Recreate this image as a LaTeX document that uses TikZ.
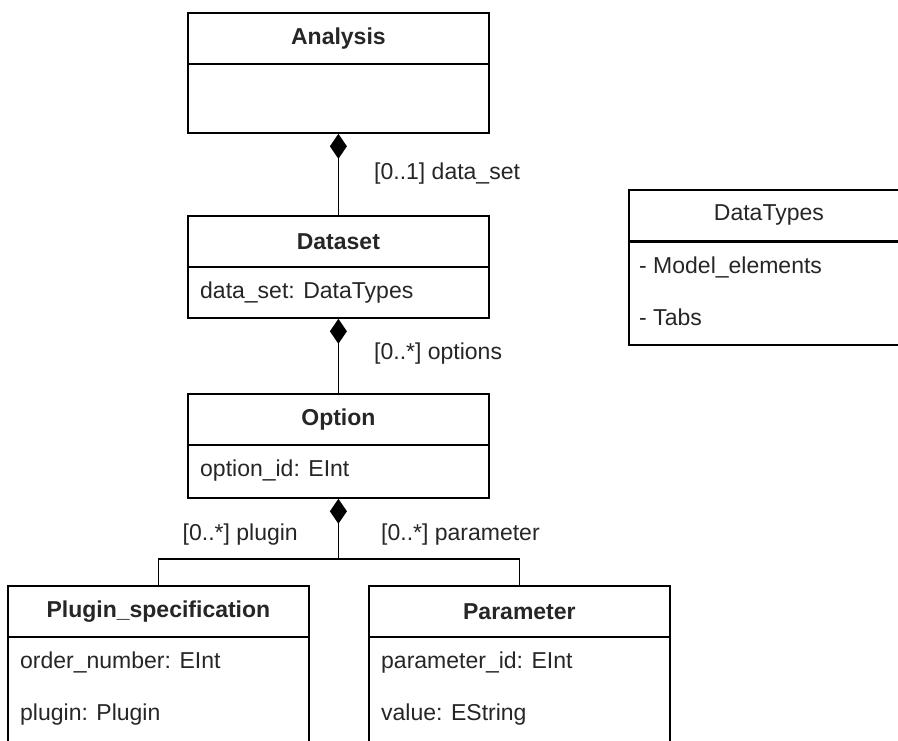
\documentclass[tikz,border=0pt]{standalone}
\usepackage{fontspec}
\setmainfont{Liberation Sans}
\usetikzlibrary{arrows.meta}
\definecolor{txt}{HTML}{262626}
\begin{document}
\begin{tikzpicture}[x=1pt,y=-1pt,
  every node/.style={font=\fontsize{23}{28}\selectfont, text=txt, inner sep=0pt},
  classhead/.style={draw=black, line width=1.8pt, minimum width=301pt,
    minimum height=51pt, anchor=north west, font=\fontsize{23}{28}\selectfont\bfseries},
  plainhead/.style={classhead, font=\fontsize{23}{28}\selectfont},
  classbody/.style={draw=black, line width=1.8pt, minimum width=301pt, anchor=north west},
  attr/.style={anchor=west, text height=17pt, text depth=5pt},
  lbl/.style={text height=17pt, text depth=5pt},
  link/.style={draw=black, line width=1.8pt},
  compose/.style={link, {Diamond[length=25pt,width=17pt]}-}
]
\fill[white] (0,0) rectangle (898,740);
\useasboundingbox (0,0) rectangle (898,740);
\clip (0,0) rectangle (898,740);

% Analysis
\node[classhead] (analysis) at (187,12) {Analysis};
\node[classbody, minimum height=69pt] (analysisBody) at (187,63) {};

% Dataset
\node[classhead] (dataset) at (187,215) {Dataset};
\node[classbody, minimum height=51pt] (datasetBody) at (187,266) {};
\node[attr] (datasetAttr) at (200,292) {data\_set: DataTypes};

% Option
\node[classhead] (option) at (187,393) {Option};
\node[classbody, minimum height=53pt] (optionBody) at (187,444) {};
\node[attr] (optionAttr) at (200,470) {option\_id: EInt};

% Plugin_specification
\node[classhead] (plugin) at (7,585) {Plugin\_specification};
\node[classbody, minimum height=180pt] (pluginBody) at (7,636) {};
\node[attr] (pluginAttrA) at (20,662) {order\_number: EInt};
\node[attr] (pluginAttrB) at (20,714) {plugin: Plugin};

% Parameter
\node[classhead] (parameter) at (368,585) {Parameter};
\node[classbody, minimum height=180pt] (parameterBody) at (368,636) {};
\node[attr] (parameterAttrA) at (381,662) {parameter\_id: EInt};
\node[attr] (parameterAttrB) at (381,714) {value: EString};

% DataTypes enumeration
\node[plainhead, minimum width=280pt] (datatypes) at (628,189) {DataTypes};
\node[classbody, minimum width=280pt, minimum height=103pt] (datatypesBody) at (628,241) {};
\node[attr] (dtLitA) at (639,267) {- Model\_elements};
\node[attr] (dtLitB) at (639,319) {- Tabs};

% Compositions
\draw[compose] (analysisBody.south) -- (dataset.north);
\node[lbl, anchor=west] (lblDataSet) at (374,173) {[0..1] data\_set};

\draw[compose] (datasetBody.south) -- (option.north);
\node[lbl, anchor=west] (lblOptions) at (374,353) {[0..*] options};

\path (optionBody.south) ++(0,60) coordinate (fork);
\draw[compose] (optionBody.south) -- (fork);
\draw[link] (fork) -| (plugin.north);
\draw[link] (fork) -| (parameter.north);
\node[lbl, anchor=east] (lblPlugin) at (298,534) {[0..*] plugin};
\node[lbl, anchor=west] (lblParameter) at (381,534) {[0..*] parameter};
\end{tikzpicture}
\end{document}
